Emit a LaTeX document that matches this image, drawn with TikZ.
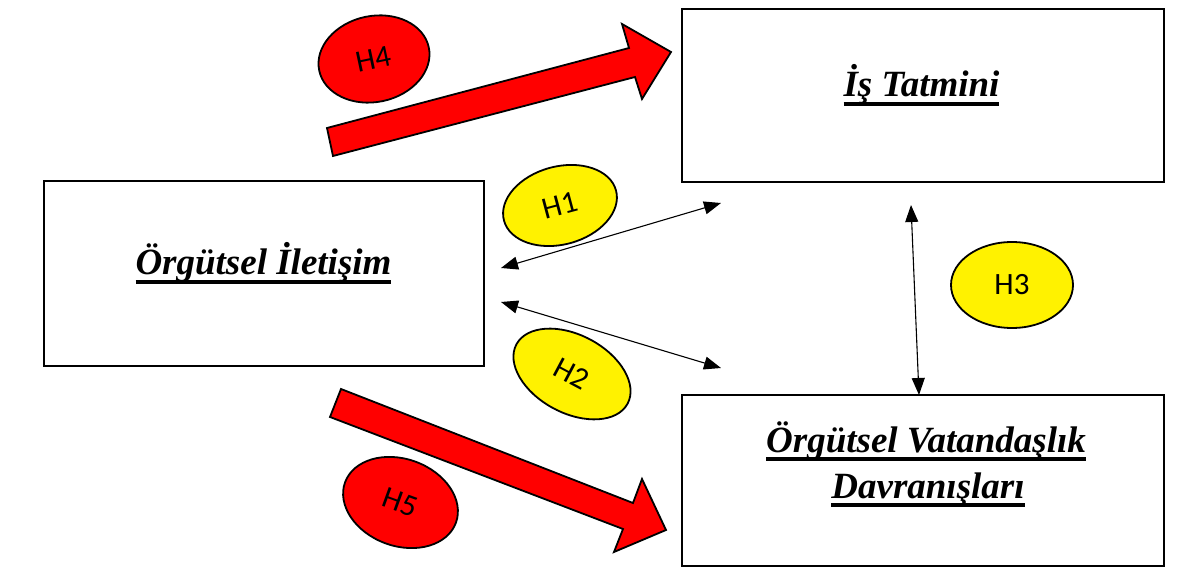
\documentclass[tikz,border=0pt]{standalone}
\usepackage{fontspec}
\setmainfont{Liberation Serif}
\newfontfamily\hfont{Carlito}
\usetikzlibrary{shapes.geometric,arrows.meta}
\newcommand\myul[1]{\setbox0\hbox{#1}\rlap{\rule[-0.235em]{\wd0}{0.09em}}\box0}
\begin{document}
\begin{tikzpicture}[x=1pt,y=-1pt,
  box/.style={draw, line width=2.2pt, fill=white, inner sep=0pt},
  title/.style={font=\fontsize{37}{46}\selectfont\bfseries\itshape, inner sep=0pt, anchor=base},
  hyp/.style={draw, line width=1.8pt, ellipse, inner sep=0pt, font=\hfont\fontsize{31}{31}\selectfont},
  redhyp/.style={hyp, fill=red},
  yellowhyp/.style={hyp, fill=yellow},
  bigarrow/.style={draw, line width=1.8pt, fill=red, line join=miter},
  link/.style={line width=1.1pt, {Triangle[length=17pt,width=13pt]}-{Triangle[length=17pt,width=13pt]}}]
\useasboundingbox (0,0) rectangle (1184,569);
\fill[white] (0,0) rectangle (1184,569);

% boxes
\node[box, minimum width=440pt, minimum height=185pt] (oi) at (264,273.5) {};
\node[box, minimum width=482pt, minimum height=173pt] (ist) at (923,95.5) {};
\node[box, minimum width=482pt, minimum height=171pt] (ovd) at (923,480.5) {};

% titles
\node[title] (toi) at (263.5,275) {\myul{Örgütsel İletişim}};
\node[title] (tis) at (921.5,97) {\myul{İş Tatmini}};
\node[title] (tovd1) at (926,452) {\myul{Örgütsel Vatandaşlık}};
\node[title] (tovd2) at (928,498) {\myul{Davranışları}};

% big arrows
\draw[bigarrow] (327,128) -- (629,48) -- (622,24) -- (671,52) -- (642,99) -- (635,77) -- (333,156) -- cycle;
\draw[bigarrow] (341,389) -- (633,503) -- (642,479) -- (666,530) -- (614,552) -- (623,529) -- (330,417) -- cycle;

% hypotheses
\node[redhyp, minimum width=112pt, minimum height=86pt, rotate=12] (h4) at (374,59) {H4};
\node[yellowhyp, minimum width=116pt, minimum height=78pt, rotate=15] (h1) at (560,205.5) {H1};
\node[yellowhyp, minimum width=126pt, minimum height=78pt, rotate=-28] (h2) at (572,374) {H2};
\node[yellowhyp, minimum width=122pt, minimum height=86pt] (h3) at (1012,285) {H3};
\node[redhyp, minimum width=118pt, minimum height=87pt, rotate=-20] (h5) at (400.5,502.5) {H5};

% thin double arrows
\coordinate (h1a) at (501,268);
\coordinate (h1b) at (721,203);
\coordinate (h2a) at (501,302);
\coordinate (h2b) at (721,368);
\coordinate (h3a) at (911,205);
\coordinate (h3b) at (919,395);
\draw[link] (h1a) -- (h1b);
\draw[link] (h2a) -- (h2b);
\draw[link] (h3a) -- (h3b);
\end{tikzpicture}
\end{document}
